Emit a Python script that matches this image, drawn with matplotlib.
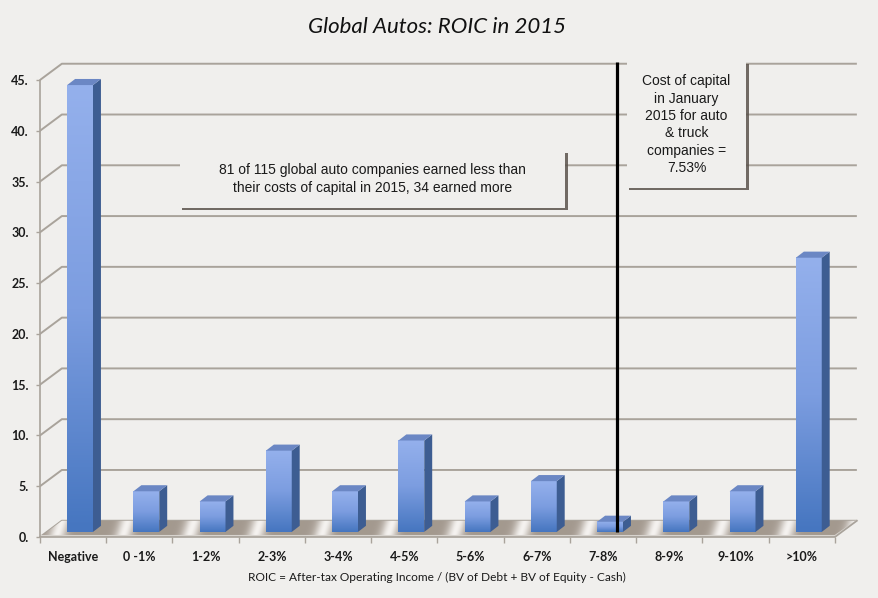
"""Global Autos: ROIC in 2015 - pseudo-3D column chart (Excel style)."""

import numpy as np
import matplotlib
matplotlib.use("Agg")
import matplotlib.pyplot as plt
from matplotlib.colors import LinearSegmentedColormap
from matplotlib.patches import Polygon, Rectangle
from matplotlib.transforms import ScaledTranslation

CATEGORIES = ["Negative", "0 -1%", "1-2%", "2-3%", "3-4%", "4-5%", "5-6%",
              "6-7%", "7-8%", "8-9%", "9-10%", ">10%"]
COUNTS = [44, 4, 3, 8, 4, 9, 3, 5, 1, 3, 4, 27]
YTICKS = list(range(0, 50, 5))
COST_OF_CAPITAL = 7.53  # percent

TITLE = "Global Autos: ROIC in 2015"
XLABEL = "ROIC = After-tax Operating Income / (BV of Debt + BV of Equity - Cash)"
NOTE_LEFT = ("81 of 115 global auto companies earned less than\n"
             "their costs of capital in 2015, 34 earned more")
NOTE_RIGHT = "Cost of capital\nin January\n2015 for auto\n& truck\ncompanies =\n7.53%"

BG = "#f0efed"
GRID = "#a9a39b"
DX, DY = 0.33, 1.6          # depth of the 3D box (category units, value units)
BX0, BW = 0.41, 0.39        # bar front face offset / width inside a category
BZ = 0.5                    # bar base lift (bars sit in the middle of the floor)
SDX, SDY = 0.12, 0.6        # bar depth

W, H = 879, 598
fig = plt.figure(figsize=(W / 100, H / 100), dpi=100, facecolor=BG)
n = len(CATEGORIES)
XMAX, YMAX = 12.4, 47
ax = fig.add_axes([40 / W, 61 / H, XMAX * 66.25 / W, YMAX * 10.156 / H])
ax.set_facecolor(BG)

# back wall grid + left side wall diagonals
for v in YTICKS:
    ax.plot([0, DX, n + DX], [v, v + DY, v + DY], color=GRID, lw=1.4, zorder=1,
            solid_capstyle="butt")

# floor with light stripes between the bars
nx, ny = 900, 24
xs = np.linspace(0, n + DX, nx)
ys = np.linspace(0, DY, ny)
XX, YY = np.meshgrid(xs, ys)
t = YY / DY
s = (XX - t * DX - 0.12 + (t - 0.5) * 0.25) % 1.0
s = np.minimum(s, 1 - s)
shine = np.exp(-(s ** 2) / (2 * 0.09 ** 2))
base = np.array([0.64, 0.60, 0.56])
light = np.array([0.96, 0.95, 0.94])
img = base + (light - base) * shine[..., None]
floor = Polygon([(0, 0), (n, 0), (n + DX, DY), (DX, DY)], closed=True,
                facecolor="none", edgecolor="none", zorder=2)
ax.add_patch(floor)
im = ax.imshow(img, extent=[0, n + DX, 0, DY], origin="lower", aspect="auto",
               zorder=2, interpolation="bilinear")
im.set_clip_path(floor)
ax.plot([0, n, n + DX], [0.12, 0.12, DY], color="#d8d4cf", lw=1.2, zorder=2)
ax.plot([n, n + DX], [0, DY], color=GRID, lw=1.2, zorder=2)

# bars
front_cmap = LinearSegmentedColormap.from_list("front", ["#4676c0", "#7c9de0", "#94b0ec"])
grad = np.linspace(0, 1, 64).reshape(-1, 1)
for i, h in enumerate(COUNTS):
    x0 = i + BX0
    x1 = x0 + BW
    y0 = BZ
    y1 = BZ + h
    ax.imshow(grad, extent=[x0, x1, y0, y1], origin="lower", aspect="auto",
              cmap=front_cmap, zorder=3, interpolation="bilinear")
    ax.add_patch(Polygon([(x1, y0), (x1 + SDX, y0 + SDY), (x1 + SDX, y1 + SDY), (x1, y1)],
                         closed=True, facecolor="#3d5d92", edgecolor="none", zorder=3))
    ax.add_patch(Polygon([(x0, y1), (x1, y1), (x1 + SDX, y1 + SDY), (x0 + SDX, y1 + SDY)],
                         closed=True, facecolor="#6b87c4", edgecolor="none", zorder=3))

# cost of capital marker
x_cost = 1 + COST_OF_CAPITAL + 0.18
ax.plot([x_cost, x_cost], [BZ, YMAX - 0.25], color="black", lw=2.3, zorder=5,
        solid_capstyle="butt")


def note_box(x0, x1, y0, y1, text, size):
    shadow_tr = ax.transData + ScaledTranslation(2.5 / 100, -2.5 / 100, fig.dpi_scale_trans)
    ax.add_patch(Rectangle((x0, y0), x1 - x0, y1 - y0, facecolor="#5b534c",
                           edgecolor="none", alpha=0.85, transform=shadow_tr, zorder=6))
    ax.add_patch(Rectangle((x0, y0), x1 - x0, y1 - y0, facecolor=BG,
                           edgecolor="none", zorder=6))
    ax.text((x0 + x1) / 2, (y0 + y1) / 2, text, ha="center", va="center",
            fontsize=size, family="Liberation Sans", color="#1a1a1a",
            linespacing=1.3, zorder=7)


note_box(2.11, 7.93, 32.4, 38.1, NOTE_LEFT, 10)
note_box(8.86, 10.66, 34.4, 46.8, NOTE_RIGHT, 10)

ax.set_xlim(0, XMAX)
ax.set_ylim(0, YMAX)
for side in ("top", "right"):
    ax.spines[side].set_visible(False)
for side in ("left", "bottom"):
    ax.spines[side].set_color(GRID)
    ax.spines[side].set_linewidth(1.2)
ax.spines["left"].set_bounds(0, YTICKS[-1])
ax.spines["bottom"].set_bounds(0, n)

ax.set_yticks(YTICKS)
ax.set_yticklabels([f"{v}." for v in YTICKS])
ax.tick_params(axis="y", length=3, width=1, color=GRID, pad=5,
               labelsize=9, labelcolor="#1a1a1a")
ax.set_xticks(np.arange(n) + 0.5)
ax.set_xticklabels(CATEGORIES)
ax.set_xticks(np.arange(n + 1), minor=True)
ax.tick_params(axis="x", which="major", length=0, pad=10, labelsize=9,
               labelcolor="#1a1a1a")
ax.tick_params(axis="x", which="minor", length=4, width=1, color=GRID)
for lab in ax.get_xticklabels() + ax.get_yticklabels():
    lab.set_family("Lato")
    lab.set_weight("bold")

ax.set_xlabel(XLABEL, family="Lato", fontsize=8.6, color="#1a1a1a")
ax.xaxis.set_label_coords(0.483, -0.073)
fig.text(437 / W, 1 - 27 / H, TITLE, ha="center", va="center", family="Lato",
         style="italic", fontsize=16, color="#111111")

fig.savefig("out.png", dpi=100, facecolor=BG)
